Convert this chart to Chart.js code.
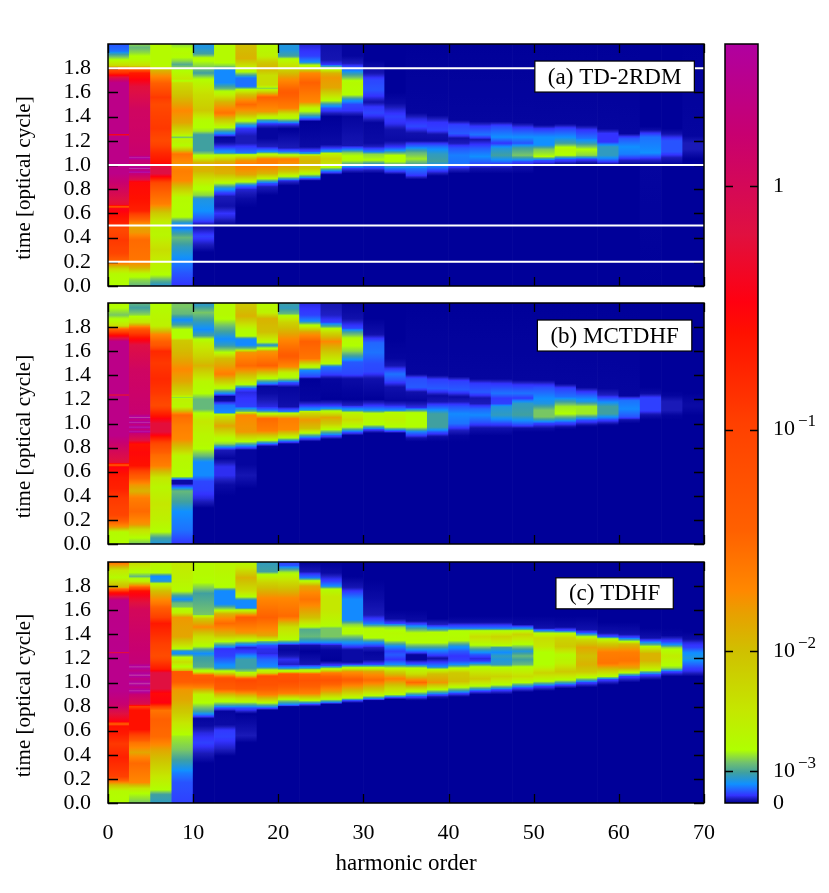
<!DOCTYPE html>
<html>
<head>
<meta charset="utf-8">
<script src="https://cdn.jsdelivr.net/npm/chart.js@4/dist/chart.umd.min.js"></script>
<style>
  html, body { margin: 0; padding: 0; background: #fff; }
  #wrap { position: relative; width: 829px; height: 893px; overflow: hidden; }
  canvas { position: absolute; }
</style>
</head>
<body>
<div id="wrap">
  <canvas id="panelA"></canvas>
  <canvas id="panelB"></canvas>
  <canvas id="panelC"></canvas>
  <canvas id="colorbar"></canvas>
</div>
<script>
// centre of each harmonic bin, 2.5 wide
const harmonicCenters = [1.25,3.75,6.25,8.75,11.25,13.75,16.25,18.75,21.25,23.75,26.25,28.75,31.25,33.75,36.25,38.75,41.25,43.75,46.25,48.75,51.25,53.75,56.25,58.75,61.25,63.75,66.25,68.75];
const timeTicks = [0,0.2,0.4,0.6,0.8,1.0,1.2,1.4,1.6,1.8];
const harmonicTicks = [0,10,20,30,40,50,60,70];
const whiteLineTimes = [0.2,0.5,1.0,1.8];

// colorbar: height in percent of the bar, the label at it and its exponent
const barTickLevels = [0,4.2,20,49.2,81.3];
const barTickLabels = ["0","10","10","10","1"];
const barTickExponents = ["","−3","−2","−1",""];
const cmapLevels = [0,0.5,1.0,1.8,2.5,4,5.3,7,12,20,25,28,36,50,62,66,75,88,100,104];
const cmapColors = ["#000099","#1a1ab8","#3333ff","#2266ff","#1090ff","#40a0a0","#70c070","#b0ff00","#c4e800","#d0c000","#e8a000","#ff8800","#ff6000","#ff4000","#ff1000","#ff0010","#e01040","#c80070","#b000a0","#c850a8"];

// one list per harmonic bin: time, level, time, level ... (level = percent of colorbar)
const td2rdm = [
  [0,7,.1,8,.14,14,.2,34,.27,48,.38,52,.47,46,.52,58,.6,64,.64,68,.655,40,.67,72,.79,82,.93,94,1.24,94,1.25,62,1.26,94,1.68,94,1.72,78,1.76,55,1.79,45,1.82,15,1.87,7,1.9,5,1.94,2,2,1.5],
  [0,5,.05,6,.1,8,.15,22,.22,32,.38,34,.44,26,.5,24,.55,36,.62,58,.72,62,.86,64,.88,78,.93,90,.94,103,.96,90,.97,103,1.0,88,1.04,90,1.06,103,1.08,88,1.2,86,1.45,84,1.65,74,1.72,64,1.76,60,1.79,40,1.82,14,1.87,8,1.93,6,1.97,5,2,6],
  [0,3,.04,4.5,.08,6.5,.12,8,.3,14,.42,9,.52,10,.6,18,.68,30,.78,36,.85,46,.9,64,.93,76,.98,76,1.02,62,1.1,56,1.2,46,1.3,52,1.4,50,1.5,46,1.56,52,1.65,40,1.72,30,1.78,22,1.82,8,2,8],
  [0,1,.1,1.5,.2,2.2,.32,3.5,.4,5,.46,3,.48,2,.52,3,.57,7,.73,8,.79,16,.87,28,.95,30,1.0,26,1.09,32,1.12,20,1.16,8,1.2,10,1.23,5,1.26,12,1.35,24,1.45,28,1.57,20,1.68,14,1.695,6,1.71,12,1.78,7,1.83,4.5,1.86,6,1.92,8,2,6],
  [0,0,.28,0,.35,.6,.41,1.2,.5,.2,.55,1.5,.62,2.5,.72,3,.75,6,.82,7.5,.88,13,.95,22,1.02,22,1.06,10,1.09,6,1.12,4,1.25,4,1.28,6.5,1.37,8,1.45,18,1.58,14,1.68,9,1.76,4,1.82,6,1.88,7.5,1.92,4,1.97,3,2,3],
  [0,0,.5,0,.56,.7,.6,1,.66,.3,.74,.5,.77,1.2,.81,3,.85,7,.93,22,1.0,25,1.03,22,1.08,8,1.1,3,1.15,1,1.19,.2,1.23,.1,1.27,3,1.31,7,1.37,18,1.43,32,1.52,22,1.58,10,1.63,5,1.68,2.4,1.78,2.4,1.82,6,1.87,8,2,8],
  [0,0,.65,0,.72,.2,.8,.7,.83,2,.86,7,.92,24,1.0,30,1.04,26,1.08,9,1.1,2,1.18,.5,1.24,.5,1.3,1,1.33,3,1.37,8,1.42,22,1.5,34,1.58,20,1.62,8,1.65,2,1.72,2,1.76,6,1.8,10,1.88,22,2,20],
  [0,0,.75,0,.82,.5,.85,1.5,.88,6,.93,22,1.0,30,1.05,30,1.08,10,1.11,2.5,1.15,.6,1.22,.1,1.3,.1,1.34,1,1.37,4,1.4,10,1.44,26,1.56,36,1.61,14,1.635,5,1.66,14,1.74,14,1.8,22,1.85,18,1.9,10,2,8],
  [0,0,.83,0,.87,.8,.91,8,.95,20,1.0,26,1.05,30,1.08,8,1.11,2,1.14,.5,1.3,0,1.34,1,1.37,5,1.42,12,1.47,30,1.6,38,1.72,26,1.8,15,1.87,8,1.9,4,1.95,3,2,3],
  [0,0,.87,0,.89,1.5,.93,8,.97,18,1.03,22,1.07,18,1.09,4,1.11,1.5,1.15,.2,1.36,0,1.39,2,1.42,5,1.47,9,1.52,28,1.68,36,1.76,28,1.8,12,1.85,2.5,1.9,1.2,2,.7],
  [0,0,.92,0,.95,2,.98,7,1.02,14,1.05,16,1.09,10,1.11,3,1.14,1,1.17,.2,1.4,0,1.43,.6,1.47,1.5,1.5,3.5,1.54,8,1.64,24,1.72,26,1.76,22,1.79,8,1.83,1,1.87,.4,2,.3],
  [0,0,.93,0,.97,1,1.0,4,1.05,8,1.1,6,1.13,2,1.16,.4,1.4,.1,1.45,1,1.5,1.3,1.54,3,1.58,7,1.68,8,1.73,5,1.78,2.2,1.84,.5,1.9,.1,2,.1],
  [0,0,.93,0,.96,.6,1.0,2.5,1.04,7,1.09,6,1.11,2.2,1.15,.6,1.18,.2,1.35,.1,1.38,.6,1.43,1.3,1.48,1,1.52,.3,1.57,1,1.62,1.5,1.7,1.3,1.76,.4,1.87,0,2,0],
  [0,0,.92,0,.93,.4,.97,2,1.03,7,1.08,7,1.12,2.5,1.15,1,1.2,.2,1.29,.3,1.34,.9,1.4,1.2,1.45,.8,1.51,.2,1.6,0,2,0],
  [0,0,.88,0,.92,1.2,.97,2,1.02,5,1.05,6.5,1.1,5,1.15,2,1.2,.2,1.26,.3,1.32,1.3,1.38,.8,1.43,.1,2,0],
  [0,0,.91,0,.95,1,.98,2,1.03,4,1.09,3.5,1.15,2,1.2,.2,1.25,.3,1.29,1.2,1.35,1,1.41,.1,2,0],
  [0,0,.93,0,.97,.7,1.01,2,1.08,2.2,1.14,1.5,1.18,.5,1.22,.3,1.26,1.6,1.33,1.2,1.37,.1,2,0],
  [0,0,.93,0,.97,.3,1.01,1.4,1.07,2.5,1.14,1.6,1.17,1,1.21,.4,1.25,2,1.32,1,1.36,.1,2,0],
  [0,0,.93,0,.97,.3,1.01,1.2,1.08,4,1.14,3,1.18,1,1.23,2.5,1.32,1.3,1.36,.1,2,0],
  [0,0,.93,0,.99,.3,1.03,1.5,1.08,5.5,1.14,4,1.18,1.5,1.23,2.5,1.3,1.2,1.35,.1,2,0],
  [0,0,.98,0,1.0,.3,1.04,1.5,1.07,7,1.13,5.5,1.165,2.5,1.23,2.5,1.3,1,1.33,.1,2,0],
  [0,0,.98,0,1.01,.3,1.05,1.5,1.08,7,1.13,8.5,1.18,4,1.23,2.5,1.3,1.2,1.34,.1,2,0],
  [0,0,1.0,0,1.01,.1,1.05,1.2,1.08,6,1.13,7,1.18,3.5,1.22,2,1.29,1,1.33,.1,2,0],
  [0,0,1.0,0,1.03,1.2,1.08,3.5,1.15,3.5,1.19,1,1.26,1,1.3,.1,2,0],
  [0,0,1.0,0,1.04,.6,1.09,2.2,1.15,2.5,1.22,1.5,1.26,.1,2,0],
  [0,0,1.01,.1,1.05,.8,1.1,2.5,1.23,2,1.29,.2,1.32,0,2,0],
  [0,0,1.0,0,1.06,.5,1.11,1.5,1.2,1.5,1.26,.3,1.3,0,2,0],
  [0,0,1.05,0,1.1,.3,1.13,.5,1.18,.5,1.24,.1,2,0]
];

const mctdhf = [
  [0,7,.1,8,.14,26,.24,48,.38,52,.46,58,.55,60,.64,66,.655,40,.675,74,.8,84,.9,94,1.23,94,1.235,62,1.245,94,1.68,94,1.71,74,1.76,50,1.79,30,1.81,14,1.85,8,1.9,5.5,1.94,6.5,2,8],
  [0,5.5,.05,7,.12,14,.16,26,.27,34,.38,30,.44,22,.49,26,.57,40,.65,62,.76,64,.83,62,.86,76,.92,88,.93,103,.95,90,.97,103,.99,90,1.01,103,1.03,90,1.05,103,1.08,88,1.45,84,1.65,76,1.71,62,1.77,45,1.84,12,1.9,6,1.96,4,2,5],
  [0,3,.05,4,.1,7,.2,10,.33,12,.47,9,.55,12,.65,30,.74,34,.83,46,.89,62,.93,74,1.0,74,1.06,62,1.15,46,1.25,52,1.37,56,1.5,52,1.6,56,1.65,40,1.74,28,1.81,10,1.95,8,2,7],
  [0,1,.12,2,.27,2.5,.35,4,.44,5,.47,2,.5,.2,.53,.2,.56,7,.73,9,.79,18,.87,28,.98,30,1.07,34,1.1,22,1.14,9,1.2,10,1.215,6,1.24,14,1.35,24,1.45,28,1.57,22,1.63,20,1.69,18,1.71,7,1.78,7,1.82,4,1.86,2.4,1.91,5,1.97,5.5,2,5.5],
  [0,0,.3,0,.38,.8,.45,1.2,.52,1.3,.57,2.4,.68,2.4,.73,5,.82,8,.9,9,1.02,12,1.07,8,1.12,5,1.2,5,1.25,7,1.35,9,1.48,22,1.56,16,1.67,10,1.73,4,1.78,2.4,1.84,3.5,1.92,5.5,1.98,3.5,2,3.5],
  [0,0,.4,0,.49,.2,.57,.9,.64,.9,.71,.1,.78,.5,.8,2,.83,6,.88,8,.98,24,1.06,14,1.09,2.4,1.15,2,1.19,.2,1.225,.1,1.25,2.4,1.3,8,1.41,30,1.54,20,1.59,7,1.65,3.5,1.7,2.4,1.8,5,1.9,8,2,8],
  [0,0,.46,0,.57,.4,.66,.1,.78,.1,.81,2,.85,7,.93,26,1.07,28,1.1,5,1.14,1.2,1.21,1,1.26,.8,1.29,1.5,1.33,8,1.48,34,1.59,26,1.615,6,1.65,2.4,1.7,2.4,1.725,7,1.78,8,1.89,22,2,18],
  [0,0,.78,0,.81,.1,.83,1.5,.86,7,.94,30,1.04,34,1.08,8,1.11,2,1.14,.8,1.21,.4,1.25,.2,1.31,.1,1.34,3,1.38,8,1.48,36,1.6,26,1.62,8,1.65,3,1.69,10,1.76,20,1.87,22,1.92,10,2,8],
  [0,0,.83,0,.85,1.5,.88,7,.95,28,1.04,30,1.08,10,1.1,2,1.14,.3,1.3,.1,1.34,1.5,1.37,6,1.42,10,1.47,28,1.56,38,1.7,28,1.84,16,1.91,5,1.96,3.5,2,4],
  [0,0,.85,0,.88,1.5,.92,7,.96,20,1.03,26,1.09,14,1.11,3,1.15,1,1.19,.1,1.37,0,1.39,1.3,1.44,2.4,1.48,10,1.54,32,1.68,36,1.76,24,1.81,8,1.85,2.4,1.9,1.2,2,.8],
  [0,0,.87,0,.9,1.5,.95,7,1.0,18,1.05,24,1.1,8,1.125,2.5,1.15,1,1.2,0,1.37,.1,1.41,1.2,1.47,2,1.5,8,1.68,28,1.76,14,1.8,5,1.84,1.2,1.9,.6,2,.4],
  [0,0,.9,0,.93,1.5,.97,7,1.03,14,1.08,10,1.11,3,1.15,.6,1.2,0,1.37,.2,1.41,1.3,1.51,1.6,1.54,3,1.6,6,1.69,8,1.76,4,1.79,1.3,1.87,.3,2,.1],
  [0,0,.92,0,.95,1.2,.99,7,1.04,9,1.08,8,1.11,2.5,1.15,1,1.2,0,1.37,.3,1.43,1.3,1.5,1.4,1.59,2,1.67,1.8,1.74,.3,1.87,0,2,0],
  [0,0,.92,0,.94,1.5,.97,7,1.03,10,1.09,8,1.11,2.4,1.15,.8,1.19,.1,1.3,.3,1.36,1.4,1.41,2,1.48,.4,1.54,.1,1.7,0,2,0],
  [0,0,.85,0,.88,.3,.93,2.2,.97,7,1.09,7,1.13,.9,1.19,.1,1.26,.3,1.3,1.6,1.37,1.4,1.41,.1,2,0],
  [0,0,.85,0,.89,.2,.93,1.5,.97,4,1.08,4,1.12,2.2,1.18,.4,1.23,.2,1.29,1.6,1.36,1.2,1.4,.1,2,0],
  [0,0,.85,0,.9,.1,.945,.6,1.0,2,1.08,2.4,1.14,1.5,1.18,.5,1.22,.2,1.28,1.6,1.35,1.2,1.39,.1,2,0],
  [0,0,.9,0,.96,.3,1.01,1.5,1.07,2.4,1.12,1.8,1.165,.5,1.21,.4,1.26,1.6,1.33,1.1,1.37,.1,2,0],
  [0,0,.9,0,.96,.3,1.0,1.3,1.07,3.5,1.14,3,1.165,1.2,1.21,1.1,1.25,2,1.33,1,1.37,.1,2,0],
  [0,0,.93,0,.96,.2,.985,1.2,1.07,4,1.165,3.5,1.21,1.1,1.25,2,1.32,1,1.36,.1,2,0],
  [0,0,.93,0,.96,.2,1.0,1.2,1.055,5.5,1.11,5.5,1.165,3,1.23,2.2,1.3,1.4,1.36,.1,2,0],
  [0,0,.95,0,.97,.2,1.01,1.5,1.08,7,1.14,6.5,1.18,4,1.22,2,1.29,1.2,1.33,.1,2,0],
  [0,0,.97,0,.985,.2,1.03,1.5,1.08,6.5,1.14,6.5,1.18,3,1.22,2,1.26,1.1,1.3,.1,2,0],
  [0,0,.98,0,.99,.1,1.03,1.2,1.08,4,1.14,4,1.19,2,1.235,.6,1.29,.1,2,0],
  [0,0,1.0,0,1.03,.3,1.055,1.5,1.12,2.4,1.19,2,1.23,.1,2,0],
  [0,0,1.03,0,1.07,.3,1.11,1.2,1.21,1.2,1.25,.2,1.3,0,2,0],
  [0,0,1.03,0,1.07,.1,1.11,.5,1.18,.5,1.23,.1,1.27,0,2,0],
  [0,0,1.07,0,1.1,.1,1.15,.2,1.21,.1,1.25,0,2,0]
];

const tdhf = [
  [0,7,.1,8,.15,20,.22,50,.38,58,.49,52,.58,60,.64,62,.655,36,.675,66,.74,75,.82,88,.93,95,1.24,95,1.245,62,1.255,95,1.68,94,1.72,72,1.75,60,1.79,22,1.87,8,1.93,12,2,34],
  [0,5.5,.08,7,.12,12,.17,28,.33,34,.42,24,.5,32,.61,62,.77,62,.8,50,.82,78,.9,88,.93,103,.96,92,.99,103,1.03,92,1.06,103,1.1,92,1.13,103,1.16,90,1.4,86,1.6,82,1.69,72,1.76,62,1.8,30,1.84,10,1.88,5,1.93,8,2,16],
  [0,3.5,.07,4,.11,7,.22,12,.33,18,.44,24,.55,34,.69,36,.77,32,.8,50,.83,66,.91,64,.95,75,1.08,75,1.11,60,1.22,45,1.35,52,1.49,60,1.54,50,1.65,32,1.76,20,1.81,10,1.84,3,1.88,2.4,1.91,7,2,10],
  [0,1.2,.17,1.5,.25,2.2,.36,4,.44,5.5,.55,6.5,.66,12,.75,18,.86,24,.94,26,1.01,38,1.09,40,1.1,20,1.13,7,1.17,14,1.21,7,1.24,2.4,1.26,3,1.3,12,1.38,24,1.54,26,1.58,10,1.63,5.5,1.66,5,1.69,2.4,1.72,4,1.77,8,1.87,10,2,12],
  [0,0,.33,0,.41,.5,.5,1.2,.58,.8,.64,.2,.7,.1,.72,1.2,.76,4,.83,7,.9,10,.96,30,1.02,40,1.06,36,1.09,8,1.13,4.5,1.21,3.8,1.24,2.4,1.27,4,1.31,8,1.38,14,1.46,28,1.53,18,1.56,5.5,1.74,4,1.78,5.5,1.83,7,1.9,8,2,8],
  [0,0,.39,0,.45,.6,.55,1.2,.6,1.1,.65,.2,.76,.1,.79,1.5,.82,5,.86,9,.91,24,.95,38,1.03,44,1.06,26,1.09,8,1.12,3,1.17,2,1.22,1.2,1.28,1,1.3,3,1.34,7,1.39,20,1.49,34,1.57,22,1.6,7,1.65,2.4,1.76,2.4,1.79,7,1.94,9,2,9],
  [0,0,.5,0,.56,.5,.62,.3,.74,0,.79,1.5,.83,6,.87,14,.95,40,1.02,46,1.06,14,1.09,6,1.12,3.8,1.19,3.8,1.22,2.4,1.25,1.2,1.29,.7,1.32,3,1.35,8,1.41,26,1.54,38,1.6,8,1.62,2.4,1.68,2.4,1.71,7,1.76,14,1.87,22,1.95,12,2,8],
  [0,0,.77,0,.79,1.5,.83,7,.9,30,.98,42,1.05,44,1.08,14,1.11,6,1.13,2.4,1.19,1.8,1.24,.8,1.28,.9,1.31,1.5,1.34,5,1.39,24,1.54,36,1.7,28,1.83,16,1.89,8,1.92,4,2,3.5],
  [0,0,.8,0,.81,1.5,.86,7,.91,30,1.01,44,1.07,40,1.09,10,1.12,2.5,1.15,.6,1.19,.9,1.23,.3,1.27,.1,1.31,.3,1.33,3,1.36,8,1.46,14,1.55,34,1.7,28,1.84,14,1.93,5,1.97,1.5,2,1.2],
  [0,0,.8,0,.82,1.2,.85,7,.91,30,1.02,42,1.07,36,1.09,12,1.12,3,1.15,.4,1.26,0,1.31,.3,1.34,3,1.38,5,1.44,4.5,1.47,8,1.54,20,1.69,32,1.8,24,1.84,8,1.87,2,1.92,.4,2,0],
  [0,0,.82,0,.83,1.2,.86,7,.92,24,1.02,42,1.08,30,1.11,8,1.14,1.2,1.18,0,1.27,.1,1.31,.6,1.34,3,1.38,5.5,1.45,5.5,1.48,8,1.6,12,1.71,12,1.77,8,1.8,2.4,1.84,1.2,1.91,.2,2,0],
  [0,0,.83,0,.85,1.2,.87,7,.93,20,1.02,38,1.09,26,1.12,8,1.15,1,1.17,.2,1.27,.2,1.3,1.2,1.34,3,1.39,6,1.42,8,1.48,6,1.52,2.4,1.69,2.4,1.75,1.2,1.79,.4,1.88,0,2,0],
  [0,0,.85,0,.86,1.2,.89,7,.94,18,1.02,34,1.09,24,1.12,8,1.15,1.2,1.19,.2,1.25,.1,1.29,.6,1.33,2.4,1.37,7,1.43,8,1.46,6,1.49,2,1.52,1.2,1.56,.5,1.7,.2,1.85,0,2,0],
  [0,0,.86,0,.875,1.2,.9,7,.96,16,1.03,30,1.09,16,1.12,7,1.15,2.4,1.19,1,1.23,1.6,1.26,1.2,1.3,2.4,1.35,7,1.41,8,1.46,6,1.49,1.2,1.53,.2,1.6,0,2,0],
  [0,0,.85,0,.86,.3,.885,1.5,.93,8,1.0,34,1.07,14,1.12,7,1.15,1.6,1.19,.1,1.23,.1,1.27,2.4,1.33,7,1.4,8,1.45,4,1.48,1.5,1.51,.2,1.6,0,2,0],
  [0,0,.86,0,.88,.3,.9,1.5,.94,7,1.0,26,1.07,20,1.11,7,1.13,2.4,1.17,1,1.2,.3,1.23,1.2,1.27,2.4,1.33,7,1.41,8,1.45,2.4,1.48,.6,1.53,0,2,0],
  [0,0,.88,0,.91,1.2,.96,7,1.01,20,1.08,18,1.12,7,1.15,2.4,1.18,1.2,1.22,1,1.26,1.6,1.3,2.8,1.36,8,1.43,7,1.45,2,1.5,.2,1.55,0,2,0],
  [0,0,.9,0,.93,1.2,.97,7,1.03,18,1.09,12,1.13,7,1.16,2.4,1.18,1,1.2,.8,1.23,1.5,1.27,3.5,1.31,7,1.38,14,1.43,7,1.45,2,1.5,.2,1.55,0,2,0],
  [0,0,.9,0,.94,1.2,.98,7,1.05,16,1.12,8,1.15,3.5,1.19,3,1.22,3.5,1.25,2.4,1.29,4,1.31,8,1.38,16,1.43,7,1.45,2,1.5,.2,1.55,0,2,0],
  [0,0,.92,0,.955,1.2,1.0,7,1.05,14,1.12,8,1.15,5,1.19,4,1.22,5,1.26,3,1.29,5,1.33,8,1.4,16,1.43,7,1.45,2.4,1.48,.2,1.55,0,2,0],
  [0,0,.93,0,.97,1.2,1.01,7,1.08,16,1.12,10,1.15,7,1.25,7,1.3,12,1.37,14,1.41,7,1.43,2.4,1.45,.3,1.55,0,2,0],
  [0,0,.95,0,.98,1.2,1.02,7,1.09,18,1.16,10,1.23,8,1.3,18,1.37,16,1.41,7,1.43,1.5,1.46,.2,1.55,0,2,0],
  [0,0,.96,0,1.0,1.2,1.04,7,1.09,18,1.15,22,1.22,20,1.29,24,1.36,14,1.38,7,1.41,1.5,1.44,.3,1.55,0,2,0],
  [0,0,.98,0,1.025,1.2,1.05,7,1.11,20,1.16,32,1.25,30,1.32,18,1.36,8,1.38,1.5,1.41,.3,1.5,0,2,0],
  [0,0,1.0,0,1.05,1.2,1.08,7,1.12,24,1.18,32,1.25,30,1.32,20,1.34,7,1.37,1.5,1.4,.3,1.5,0,2,0],
  [0,0,1.02,0,1.065,1.2,1.09,5,1.12,12,1.18,22,1.24,22,1.29,10,1.31,5,1.345,1.4,1.37,.3,1.45,0,2,0],
  [0,0,1.05,0,1.09,1.2,1.12,6,1.16,8,1.22,11,1.26,8,1.29,6,1.315,2.4,1.34,1.2,1.39,.1,1.45,0,2,0],
  [0,0,1.05,0,1.09,.8,1.12,1.2,1.18,2.4,1.2,3,1.25,2.4,1.29,1.2,1.33,.8,1.36,.2,1.42,0,2,0]
];

const FONT = '"Liberation Serif", serif';

function hexToRgb(h) {
  return [1, 3, 5].map(i => parseInt(h.substr(i, 2), 16));
}

// level on the colorbar -> css colour
function levelColor(v) {
  let i = 0;
  while (i < cmapLevels.length - 2 && v > cmapLevels[i + 1]) i++;
  const f = Math.min(1, Math.max(0, (v - cmapLevels[i]) / (cmapLevels[i + 1] - cmapLevels[i])));
  const a = hexToRgb(cmapColors[i]), b = hexToRgb(cmapColors[i + 1]);
  return "rgb(" + a.map((c, k) => Math.round(c + (b[k] - c) * f)).join(",") + ")";
}

// vertical fill of one harmonic bin, stops placed through the y scale
function columnGradient(chart, col) {
  const y = chart.scales.y;
  const y0 = y.getPixelForValue(0), y2 = y.getPixelForValue(2);
  if (!isFinite(y0) || !isFinite(y2)) return cmapColors[0]; // scales not laid out yet
  const g = chart.ctx.createLinearGradient(0, y0, 0, y2);
  for (let i = 0; i + 2 < col.length; i += 2) {
    const t0 = col[i], v0 = col[i + 1], t1 = col[i + 2], v1 = col[i + 3];
    for (let s = 0; s < 6; s++) {
      const f = s / 6;
      g.addColorStop((t0 + (t1 - t0) * f) / 2, levelColor(v0 + (v1 - v0) * f));
    }
  }
  g.addColorStop(1, levelColor(col[col.length - 1]));
  return g;
}

// inward tick marks go right over the bars, so white lines can cross them; the box goes on top of all
function framePlugin(xLen, yLen, skipZero) {
  return {
    id: "frame",
    afterDatasetDraw(chart, args) {
      if (args.index !== 0) return;
      const { ctx, chartArea: a, scales } = chart;
      ctx.save();
      ctx.strokeStyle = "#000";
      ctx.lineWidth = 1.3;
      ctx.beginPath();
      if (xLen) scales.x.ticks.forEach(t => {
        const px = Math.round(scales.x.getPixelForValue(t.value)) + 0.5;
        ctx.moveTo(px, a.bottom); ctx.lineTo(px, a.bottom - xLen);
        ctx.moveTo(px, a.top); ctx.lineTo(px, a.top + xLen);
      });
      scales.y.ticks.forEach(t => {
        if (skipZero && t.value === 0) return;
        const py = Math.round(scales.y.getPixelForValue(t.value)) + 0.5;
        ctx.moveTo(a.left, py); ctx.lineTo(a.left + yLen, py);
        ctx.moveTo(a.right, py); ctx.lineTo(a.right - yLen, py);
      });
      ctx.stroke();
      ctx.restore();
    },
    afterDatasetsDraw(chart) {
      const { ctx, chartArea: a } = chart;
      ctx.save();
      ctx.strokeStyle = "#000";
      ctx.lineWidth = 1.5;
      ctx.strokeRect(a.left, a.top, a.right - a.left, a.bottom - a.top);
      ctx.restore();
    }
  };
}

// white caption box in data coordinates, plus the y title that sits below the panel centre
function captionPlugin(text, xVal, tVal) {
  return {
    id: "caption",
    afterDraw(chart) {
      const { ctx, scales, chartArea: a } = chart;
      const cx = scales.x.getPixelForValue(xVal), cy = scales.y.getPixelForValue(tVal);
      ctx.save();
      ctx.font = "23px " + FONT;
      const w = ctx.measureText(text).width + 26, h = 31;
      ctx.fillStyle = "#fff";
      ctx.fillRect(cx - w / 2, cy - h / 2, w, h);
      ctx.strokeStyle = "#000";
      ctx.lineWidth = 1.2;
      ctx.strokeRect(cx - w / 2, cy - h / 2, w, h);
      ctx.fillStyle = "#000";
      ctx.textAlign = "center";
      ctx.textBaseline = "middle";
      ctx.fillText(text, cx, cy + 1);
      ctx.translate(24, (a.top + a.bottom) / 2 + 13);
      ctx.rotate(-Math.PI / 2);
      ctx.font = "21px " + FONT;
      ctx.fillText("time [optical cycle]", 0, 0);
      ctx.restore();
    }
  };
}

function drawPanel(id, top, height, plotTop, plotBottom, columns, caption, captionT, isLast, lines) {
  const el = document.getElementById(id);
  el.style.left = "0px";
  el.style.top = top + "px";
  el.width = 720;
  el.height = height;

  const datasets = [{
    type: "bar",
    order: 2,
    data: harmonicCenters.map(c => ({ x: c, y: [0, 2] })),
    borderWidth: 0,
    categoryPercentage: 1,
    barPercentage: 1,
    backgroundColor: ctx => columnGradient(ctx.chart, columns[ctx.dataIndex])
  }];
  lines.forEach(t => datasets.push({
    type: "line",
    order: 1,
    data: [{ x: 0, y: t }, { x: 70, y: t }],
    borderColor: "#fff",
    borderWidth: 2,
    pointRadius: 0
  }));

  return new Chart(el, {
    type: "bar",
    data: { datasets },
    options: {
      responsive: false,
      animation: false,
      events: [],
      layout: { padding: { top: plotTop - top, right: 16, left: 0, bottom: 0 } },
      plugins: { legend: { display: false }, tooltip: { enabled: false } },
      scales: {
        x: {
          type: "linear",
          min: 0, max: 70,
          offset: false,
          grid: { display: false, drawTicks: false },
          border: { display: false },
          afterBuildTicks: s => { s.ticks = harmonicTicks.map(v => ({ value: v })); },
          ticks: { display: isLast, font: { family: FONT, size: 22 }, color: "#000", padding: 17, maxRotation: 0, autoSkip: false },
          title: { display: isLast, text: "harmonic order", color: "#000", font: { family: FONT, size: 23 }, padding: { top: 0, bottom: 15 } },
          afterFit: s => {
            s.height = top + height - plotBottom;
            s.paddingLeft = s.paddingRight = s.paddingTop = s.paddingBottom = 0;
          }
        },
        y: {
          type: "linear",
          min: 0, max: 2,
          grid: { display: false, drawTicks: false },
          border: { display: false },
          afterBuildTicks: s => { s.ticks = timeTicks.map(v => ({ value: v })); },
          ticks: { font: { family: FONT, size: 22 }, color: "#000", padding: 17, autoSkip: false, callback: v => v.toFixed(1) },
          afterFit: s => {
            s.width = 108;
            s.paddingLeft = s.paddingRight = s.paddingTop = s.paddingBottom = 0;
          }
        }
      }
    },
    plugins: [framePlugin(9, 10, false), captionPlugin(caption, 59.5, captionT)]
  });
}

drawPanel("panelA", 30, 272, 44, 286, td2rdm, "(a) TD-2RDM", 1.731, false, whiteLineTimes);
drawPanel("panelB", 289, 272, 303, 544, mctdhf, "(b) MCTDHF", 1.73, false, []);
drawPanel("panelC", 548, 345, 562, 803, tdhf, "(c) TDHF", 1.74, true, []);

// exponents of the colorbar labels, as raised text after the "10"
const exponentPlugin = {
  id: "exponents",
  afterDraw(chart) {
    const { ctx, scales } = chart;
    ctx.save();
    ctx.fillStyle = "#000";
    ctx.textBaseline = "middle";
    ctx.textAlign = "left";
    barTickLevels.forEach((l, i) => {
      if (!barTickExponents[i]) return;
      ctx.font = "22px " + FONT;
      const x = scales.y.left + 17 + ctx.measureText(barTickLabels[i]).width + 1;
      ctx.font = "17px " + FONT;
      ctx.fillText(barTickExponents[i], x, scales.y.getPixelForValue(l) - 8);
    });
    ctx.restore();
  }
};

// colorbar
const cbEl = document.getElementById("colorbar");
cbEl.style.left = "720px";
cbEl.style.top = "30px";
cbEl.width = 109;
cbEl.height = 800;
new Chart(cbEl, {
  type: "bar",
  data: {
    labels: [""],
    datasets: [{
      data: [[0, 100]],
      borderWidth: 0,
      categoryPercentage: 1,
      barPercentage: 1,
      backgroundColor: ctx => {
        const y = ctx.chart.scales.y;
        const y0 = y.getPixelForValue(0), y1 = y.getPixelForValue(100);
        if (!isFinite(y0) || !isFinite(y1)) return cmapColors[0];
        const g = ctx.chart.ctx.createLinearGradient(0, y0, 0, y1);
        cmapLevels.forEach(l => { if (l <= 100) g.addColorStop(l / 100, levelColor(l)); });
        return g;
      }
    }]
  },
  options: {
    responsive: false,
    animation: false,
    events: [],
    layout: { padding: { top: 14, bottom: 27, left: 5, right: 0 } },
    plugins: { legend: { display: false }, tooltip: { enabled: false } },
    scales: {
      x: {
        grid: { display: false, drawTicks: false },
        border: { display: false },
        ticks: { display: false },
        afterFit: s => { s.height = 0; s.paddingLeft = s.paddingRight = s.paddingTop = s.paddingBottom = 0; }
      },
      y: {
        position: "right",
        min: 0, max: 100,
        grid: { display: false, drawTicks: false },
        border: { display: false },
        afterBuildTicks: s => { s.ticks = barTickLevels.map(v => ({ value: v })); },
        ticks: {
          font: { family: FONT, size: 22 }, color: "#000", padding: 15, autoSkip: false,
          callback: v => barTickLabels[barTickLevels.indexOf(v)]
        },
        afterFit: s => {
          s.width = 71;
          s.paddingLeft = s.paddingRight = s.paddingTop = s.paddingBottom = 0;
        }
      }
    }
  },
  plugins: [framePlugin(0, 8, true), exponentPlugin]
});
</script>
</body>
</html>
